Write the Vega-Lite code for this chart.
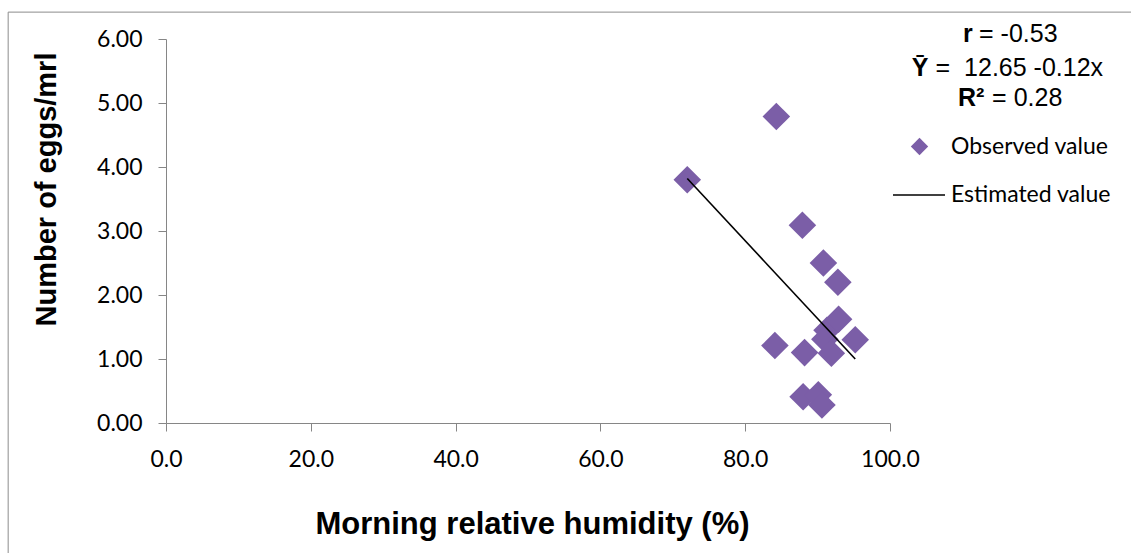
{
  "$schema": "https://vega.github.io/schema/vega-lite/v6.json",
  "width": 724,
  "height": 384,
  "autosize": {"type": "none"},
  "padding": {"left": 166, "top": 39, "right": 241, "bottom": 130},
  "background": "#ffffff",
  "config": {
    "view": {"stroke": null},
    "axis": {
      "grid": false,
      "domainColor": "#868686",
      "tickColor": "#868686",
      "domainWidth": 1,
      "tickWidth": 1,
      "labelFont": "Lato",
      "labelFontSize": 23,
      "labelColor": "#000000",
      "titleFont": "Liberation Sans",
      "titleFontSize": 29,
      "titleFontWeight": "bold",
      "titleColor": "#000000"
    },
    "legend": {"labelFont": "Lato", "labelFontSize": 23, "labelColor": "#000000", "padding": 0}
  },
  "datasets": {
    "frame": [
      {"left": -21.8, "right": 140, "top": 6.42, "bottom": -4}
    ],
    "observed": [
      {"series": "Observed value", "humidity": 84.3, "eggs": 4.79},
      {"series": "Observed value", "humidity": 72.0, "eggs": 3.80},
      {"series": "Observed value", "humidity": 87.9, "eggs": 3.09},
      {"series": "Observed value", "humidity": 90.8, "eggs": 2.50},
      {"series": "Observed value", "humidity": 92.8, "eggs": 2.20},
      {"series": "Observed value", "humidity": 91.3, "eggs": 1.45},
      {"series": "Observed value", "humidity": 91.0, "eggs": 1.31},
      {"series": "Observed value", "humidity": 92.9, "eggs": 1.62},
      {"series": "Observed value", "humidity": 95.2, "eggs": 1.30},
      {"series": "Observed value", "humidity": 84.1, "eggs": 1.21},
      {"series": "Observed value", "humidity": 88.2, "eggs": 1.10},
      {"series": "Observed value", "humidity": 91.9, "eggs": 1.09},
      {"series": "Observed value", "humidity": 88.0, "eggs": 0.41},
      {"series": "Observed value", "humidity": 90.1, "eggs": 0.44},
      {"series": "Observed value", "humidity": 90.6, "eggs": 0.28}
    ],
    "estimated": [
      {"series": "Estimated value", "humidity": 72.0, "eggs": 3.82},
      {"series": "Estimated value", "humidity": 95.2, "eggs": 1.0}
    ],
    "stats_bold": [
      {"label": "r", "humidity": 110.1, "eggs": 5.958},
      {"label": "Ȳ", "humidity": 103.0, "eggs": 5.427},
      {"label": "R²", "humidity": 109.4, "eggs": 4.958}
    ],
    "stats_regular": [
      {"label": "= -0.53", "humidity": 112.3, "eggs": 5.958},
      {"label": "=\u00a0\u00a012.65 -0.12x", "humidity": 106.3, "eggs": 5.427},
      {"label": "= 0.28", "humidity": 114.1, "eggs": 4.958}
    ]
  },
  "layer": [
    {
      "data": {"name": "frame"},
      "mark": {"type": "rule", "color": "#8c8c8c", "strokeWidth": 1},
      "encoding": {
        "x": {"field": "left", "type": "quantitative", "scale": {"domain": [0, 100], "nice": false, "zero": false}},
        "y": {"field": "top", "type": "quantitative", "scale": {"domain": [0, 6], "nice": false, "zero": false}},
        "y2": {"field": "bottom"}
      }
    },
    {
      "data": {"name": "frame"},
      "mark": {"type": "rule", "color": "#8c8c8c", "strokeWidth": 1},
      "encoding": {
        "x": {"field": "left", "type": "quantitative", "scale": {"domain": [0, 100], "nice": false, "zero": false}},
        "x2": {"field": "right"},
        "y": {"field": "top", "type": "quantitative", "scale": {"domain": [0, 6], "nice": false, "zero": false}}
      }
    },
    {
      "data": {"name": "observed"},
      "mark": {"type": "point", "filled": true, "color": "#7b5ea7", "opacity": 1, "size": 760},
      "encoding": {
        "x": {
          "field": "humidity",
          "type": "quantitative",
          "scale": {"domain": [0, 100], "nice": false, "zero": false},
          "axis": {
            "title": "Morning relative humidity (%)",
            "values": [0, 20, 40, 60, 80, 100],
            "format": ".1f",
            "tickSize": 8,
            "labelPadding": 17,
            "labelFlush": false,
            "labelOverlap": false,
            "titleFontSize": 31,
            "titleX": 366,
            "titleY": 110,
            "titleBaseline": "alphabetic",
            "titleAlign": "center"
          }
        },
        "y": {
          "field": "eggs",
          "type": "quantitative",
          "scale": {"domain": [0, 6], "nice": false, "zero": false},
          "axis": {
            "title": "Number of eggs/mrl",
            "values": [0, 1, 2, 3, 4, 5, 6],
            "format": ".2f",
            "tickSize": 8,
            "labelPadding": 16,
            "labelFlush": false,
            "labelOverlap": false,
            "titleX": -111,
            "titleY": 150,
            "titleAngle": 270,
            "titleBaseline": "alphabetic",
            "titleAlign": "center"
          }
        },
        "shape": {
          "field": "series",
          "type": "nominal",
          "scale": {"domain": ["Observed value"], "range": ["diamond"]},
          "legend": {
            "title": null,
            "orient": "none",
            "legendX": 742,
            "legendY": 96,
            "symbolSize": 300,
            "symbolFillColor": "#7b5ea7",
            "symbolStrokeColor": "#7b5ea7",
            "symbolStrokeWidth": 0,
            "labelOffset": 20
          }
        }
      }
    },
    {
      "data": {"name": "estimated"},
      "mark": {"type": "line", "strokeWidth": 1.6},
      "encoding": {
        "x": {"field": "humidity", "type": "quantitative", "scale": {"domain": [0, 100], "nice": false, "zero": false}},
        "y": {"field": "eggs", "type": "quantitative", "scale": {"domain": [0, 6], "nice": false, "zero": false}},
        "color": {
          "field": "series",
          "type": "nominal",
          "scale": {"domain": ["Estimated value"], "range": ["#000000"]},
          "legend": {
            "title": null,
            "orient": "none",
            "legendX": 726,
            "legendY": 129,
            "symbolType": "stroke",
            "symbolSize": 2704,
            "symbolStrokeWidth": 1.5,
            "symbolStrokeColor": "#000000",
            "labelOffset": 5
          }
        }
      }
    },
    {
      "data": {"name": "stats_bold"},
      "mark": {"type": "text", "font": "Liberation Sans", "fontSize": 25, "fontWeight": "bold", "align": "left", "baseline": "alphabetic", "color": "#000000"},
      "encoding": {
        "x": {"field": "humidity", "type": "quantitative", "scale": {"domain": [0, 100], "nice": false, "zero": false}},
        "y": {"field": "eggs", "type": "quantitative", "scale": {"domain": [0, 6], "nice": false, "zero": false}},
        "text": {"field": "label"}
      }
    },
    {
      "data": {"name": "stats_regular"},
      "mark": {"type": "text", "font": "Liberation Sans", "fontSize": 25, "align": "left", "baseline": "alphabetic", "color": "#000000"},
      "encoding": {
        "x": {"field": "humidity", "type": "quantitative", "scale": {"domain": [0, 100], "nice": false, "zero": false}},
        "y": {"field": "eggs", "type": "quantitative", "scale": {"domain": [0, 6], "nice": false, "zero": false}},
        "text": {"field": "label"}
      }
    }
  ]
}
